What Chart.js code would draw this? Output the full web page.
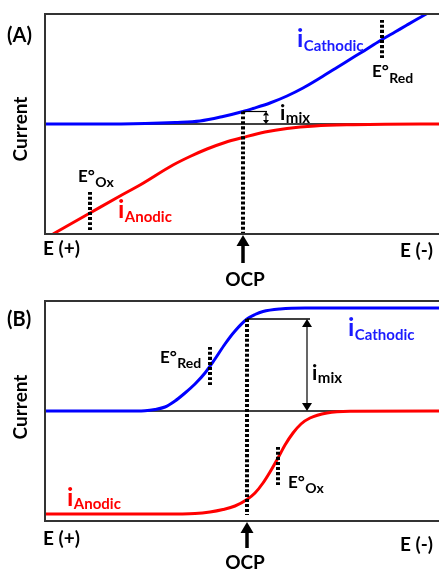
<!DOCTYPE html>
<html>
<head>
<meta charset="utf-8">
<script src="https://cdn.jsdelivr.net/npm/chart.js@4"></script>
<style>
  html, body { margin: 0; padding: 0; background: #fff; overflow: hidden; }
  #wrap { position: relative; width: 439px; height: 569px; }
  canvas { position: absolute; left: 0; }
  #chartA { top: 0; }
  #chartB { top: 285px; }
</style>
</head>
<body>
<div id="wrap">
  <canvas id="chartA" width="439" height="295"></canvas>
  <canvas id="chartB" width="439" height="284"></canvas>
</div>
<script>
// x = potential (0 at the E(+) end), y = current (cathodic up, anodic down)

// panel (A)
const cathAx = [0, 50, 100, 130, 155, 178, 198, 208, 225, 242, 258, 275, 292, 308, 322, 337, 350, 362, 383, 394];
const cathAy = [0, 0, 0.5, 1.5, 3, 7.5, 12.5, 15.5, 21, 28, 36, 46, 56.5, 66.5, 75, 84.5, 92, 99, 111, 117];
const anodAx = [8, 45, 75, 95, 128, 145, 162, 180, 198, 220, 242, 270, 308, 340, 394];
const anodAy = [-110, -89, -72, -61, -41, -32.5, -25, -18.5, -13.5, -8, -4.5, -2, -0.7, -0.2, 0];
const ocpA = 198;
const e0OxA = 45;
const e0RedA = 337;
const mixA = [12.5, 0];    // i_mix bracket: cathodic current at OCP down to zero
const mixEndA = 222;

// panel (B)
const cathBx = [0, 80, 100, 110, 120, 130, 140, 150, 160, 170, 180, 190, 202, 210, 218, 235, 260, 300, 394];
const cathBy = [0, 0, 0.3, 1.5, 4, 10, 18, 27, 38, 52, 67, 80, 92, 96.5, 99.5, 102, 103, 103, 103];
const anodBx = [0, 120, 150, 165, 178, 190, 202, 210, 218, 225, 233, 240, 248, 256, 265, 282, 305, 394];
const anodBy = [-103, -103, -102.5, -101, -98.5, -95, -88.5, -82, -72, -61, -47, -34, -22, -13, -7, -2, -0.3, 0];
const ocpB = 202;
const e0RedB = 165;
const e0OxB = 233;
const mixB = [92, 0];
const mixEndB = 265;

const FONT = "Lato, 'Open Sans', sans-serif";
const BLUE = "#0000ff";
const RED = "#ff0000";

function series(x, y, color, width, dash, order) {
  return {
    data: x.map((v, i) => ({ x: v, y: y[i] })),
    borderColor: color,
    borderWidth: width,
    borderDash: dash || [],
    pointRadius: 0,
    cubicInterpolationMode: "monotone",
    fill: false,
    order: order
  };
}

function arrowHead(ctx, x, y, dir, w, h) {
  // dir = -1 points up, +1 points down
  ctx.beginPath();
  ctx.moveTo(x, y);
  ctx.lineTo(x - w / 2, y - dir * h);
  ctx.lineTo(x + w / 2, y - dir * h);
  ctx.closePath();
  ctx.fill();
}

const figLabels = {
  id: "figLabels",
  afterDatasetsDraw(chart, args, o) {
    const ctx = chart.ctx, area = chart.chartArea;
    const xs = chart.scales.x, ys = chart.scales.y;
    ctx.save();

    // frame: top, left, bottom (right edge is cut off in the figure)
    ctx.strokeStyle = "#333";
    ctx.lineWidth = 2;
    ctx.beginPath();
    ctx.moveTo(area.right + 2, area.top);
    ctx.lineTo(area.left, area.top);
    ctx.lineTo(area.left, area.bottom);
    ctx.lineTo(area.right + 2, area.bottom);
    ctx.stroke();

    // i_mix double arrow
    ctx.strokeStyle = "#000";
    ctx.fillStyle = "#000";
    ctx.lineWidth = 1.2;
    const mx = xs.getPixelForValue(o.mixX);
    const y1 = ys.getPixelForValue(o.mix[0]);
    const y2 = ys.getPixelForValue(o.mix[1]);
    ctx.beginPath();
    ctx.moveTo(mx, y1 + o.head[1]);
    ctx.lineTo(mx, y2 - o.head[1]);
    ctx.stroke();
    arrowHead(ctx, mx, y1, -1, o.head[0], o.head[1]);
    arrowHead(ctx, mx, y2, 1, o.head[0], o.head[1]);

    // OCP arrow under the axis
    const ox = xs.getPixelForValue(o.ocp);
    ctx.lineWidth = 3.5;
    ctx.beginPath();
    ctx.moveTo(ox, area.bottom + o.ocpLen);
    ctx.lineTo(ox, area.bottom + 10);
    ctx.stroke();
    arrowHead(ctx, ox, area.bottom + 1, -1, 13, 11);

    // texts
    ctx.textBaseline = "alphabetic";
    o.texts.forEach(t => {
      ctx.fillStyle = t.color || "#000";
      ctx.font = "bold " + t.size + "px " + FONT;
      ctx.textAlign = t.align || "left";
      ctx.fillText(t.main, t.x, t.y);
      if (t.sub) {
        const w = ctx.measureText(t.main).width;
        ctx.font = "bold " + t.subSize + "px " + FONT;
        ctx.textAlign = "left";
        ctx.fillText(t.sub, t.x + w + 0.5, t.y + t.subDy);
      }
    });

    // y title
    ctx.fillStyle = "#000";
    ctx.font = "bold 19px " + FONT;
    ctx.textAlign = "center";
    ctx.textBaseline = "middle";
    ctx.translate(21, o.titleY);
    ctx.rotate(-Math.PI / 2);
    ctx.fillText("Current", 0, 0);
    ctx.restore();
  }
};

function makeChart(id, datasets, pad, labelOpts) {
  return new Chart(document.getElementById(id), {
    type: "line",
    data: { datasets: datasets },
    options: {
      responsive: false,
      animation: false,
      layout: { padding: pad },
      scales: {
        x: { type: "linear", min: 0, max: 394, display: false },
        y: { min: -110, max: 110, display: false }
      },
      plugins: { legend: { display: false }, tooltip: { enabled: false }, figLabels: labelOpts }
    },
    plugins: [figLabels]
  });
}

const DOT = [3, 2];

makeChart("chartA", [
  series([0, 394], [0, 0], "#000", 1.5, null, 3),
  series(cathAx, cathAy, BLUE, 3, null, 1),
  series(anodAx, anodAy, RED, 3, null, 1),
  series([ocpA, ocpA], [cathAy[cathAx.indexOf(ocpA)], -110], "#000", 4, DOT, 0),
  series([e0OxA, e0OxA], [-68, -108], "#000", 4, DOT, 0),
  series([e0RedA, e0RedA], [104, 66], "#000", 4, DOT, 0),
  series([ocpA, mixEndA], [mixA[0], mixA[0]], "#000", 1.2, null, 0)
], { left: 45, top: 14, right: 0, bottom: 61 }, {
  ocp: ocpA, ocpLen: 29, mix: mixA, mixX: mixEndA - 1, head: [6, 4], titleY: 129,
  texts: [
    { main: "(A)", x: 7, y: 42, size: 20 },
    { main: "E (+)", x: 43, y: 255, size: 19 },
    { main: "E (-)", x: 433, y: 257, size: 19, align: "right" },
    { main: "OCP", x: 245, y: 286, size: 19, align: "center" },
    { main: "i", sub: "Cathodic", x: 297, y: 47, size: 25, subSize: 15, subDy: 4, color: "#1a1aff" },
    { main: "E°", sub: "Red", x: 372, y: 77, size: 17, subSize: 14, subDy: 6 },
    { main: "i", sub: "mix", x: 280, y: 120, size: 21, subSize: 15, subDy: 3 },
    { main: "E°", sub: "Ox", x: 78, y: 182, size: 17, subSize: 14, subDy: 5 },
    { main: "i", sub: "Anodic", x: 118, y: 218, size: 25, subSize: 15, subDy: 4, color: RED }
  ]
});

makeChart("chartB", [
  series([0, 394], [0, 0], "#000", 1.5, null, 3),
  series(cathBx, cathBy, BLUE, 3, null, 1),
  series(anodBx, anodBy, RED, 3, null, 1),
  series([ocpB, ocpB], [cathBy[cathBx.indexOf(ocpB)], -104], "#000", 4, DOT, 0),
  series([e0RedB, e0RedB], [64, 25], "#000", 4, DOT, 0),
  series([e0OxB, e0OxB], [-36, -74], "#000", 4, DOT, 0),
  series([ocpB, mixEndB], [mixB[0], mixB[0]], "#000", 1.5, null, 0)
], { left: 45, top: 16, right: 0, bottom: 48 }, {
  ocp: ocpB, ocpLen: 27, mix: mixB, mixX: mixEndB - 3, head: [10, 8], titleY: 122,
  texts: [
    { main: "(B)", x: 7, y: 41, size: 20 },
    { main: "E (+)", x: 43, y: 260, size: 19 },
    { main: "E (-)", x: 433, y: 266, size: 19, align: "right" },
    { main: "OCP", x: 245, y: 284, size: 19, align: "center" },
    { main: "i", sub: "Cathodic", x: 348, y: 51, size: 25, subSize: 15, subDy: 4, color: "#1a1aff" },
    { main: "i", sub: "mix", x: 312, y: 95, size: 21, subSize: 15, subDy: 3 },
    { main: "E°", sub: "Red", x: 160, y: 78, size: 17, subSize: 14, subDy: 5 },
    { main: "E°", sub: "Ox", x: 288, y: 203, size: 17, subSize: 14, subDy: 5 },
    { main: "i", sub: "Anodic", x: 67, y: 221, size: 25, subSize: 15, subDy: 3, color: RED }
  ]
});
</script>
</body>
</html>
